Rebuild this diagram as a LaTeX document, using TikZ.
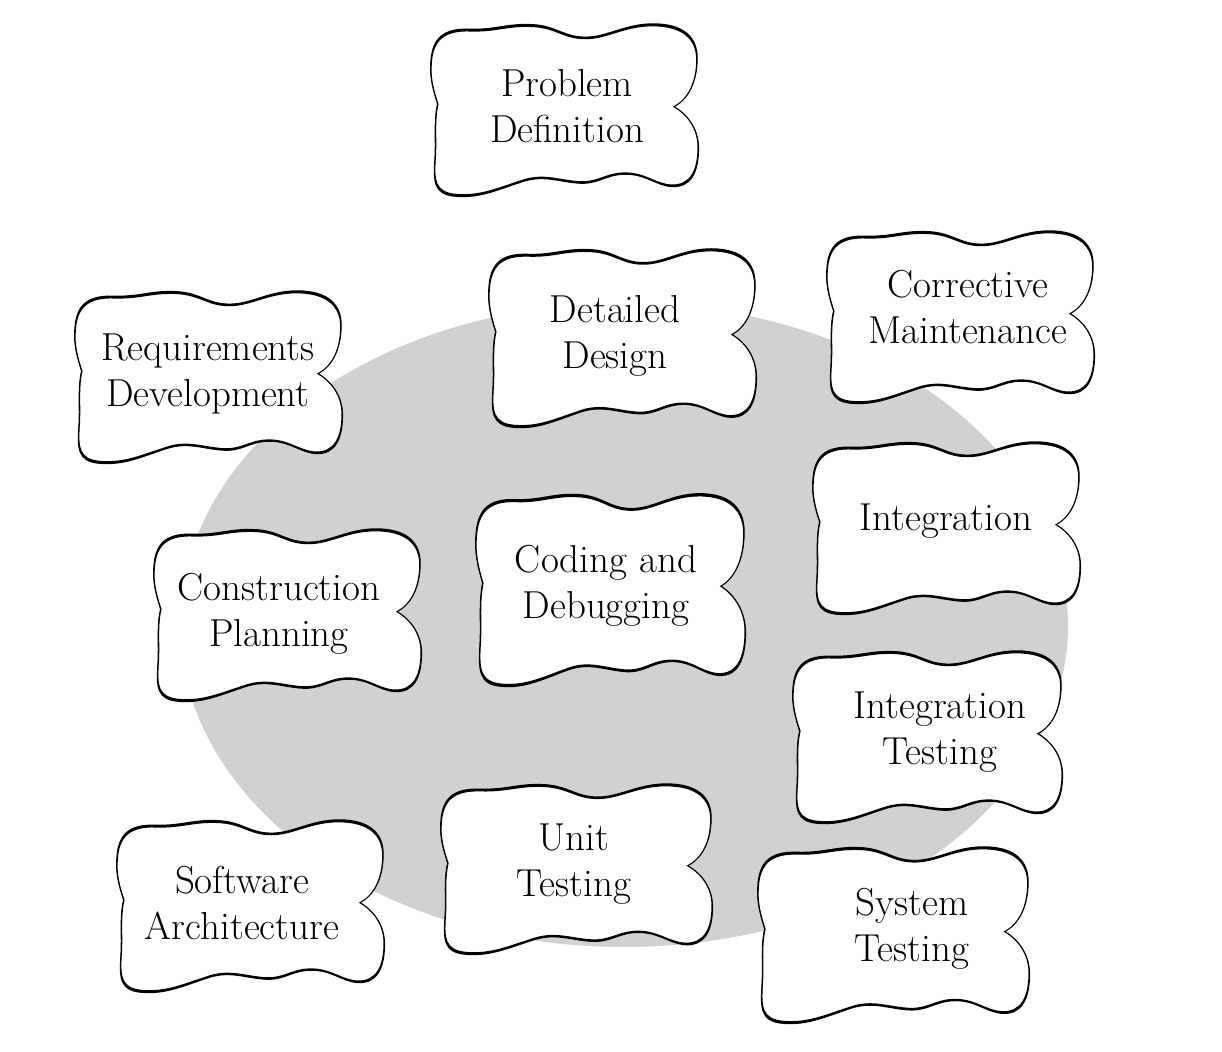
\documentclass[tikz,border=0pt]{standalone}
\usetikzlibrary{calc}
\definecolor{backdrop}{RGB}{209,209,209}

\tikzset{
  % wobbly cloud outline in unit coordinates (y grows downward)
  blobpath/.style={insert path={
    (-0.70,-0.93)
    .. controls (-0.5,-0.92) and (-0.42,-1.0) .. (-0.22,-0.98)
    .. controls (-0.05,-0.96) and (0.0,-0.84) .. (0.16,-0.84)
    .. controls (0.32,-0.84) and (0.45,-0.99) .. (0.66,-0.99)
    .. controls (0.9,-0.99) and (0.99,-0.82) .. (0.99,-0.6)
    .. controls (0.99,-0.32) and (0.92,-0.13) .. (0.82,-0.05)
    .. controls (0.93,0.05) and (1.0,0.22) .. (1.0,0.42)
    .. controls (1.0,0.7) and (0.94,0.87) .. (0.8,0.86)
    .. controls (0.68,0.85) and (0.6,0.71) .. (0.44,0.72)
    .. controls (0.3,0.73) and (0.25,0.84) .. (0.1,0.82)
    .. controls (-0.05,0.8) and (-0.15,0.73) .. (-0.3,0.8)
    .. controls (-0.5,0.9) and (-0.62,0.99) .. (-0.8,0.97)
    .. controls (-0.97,0.95) and (-0.97,0.8) .. (-0.96,0.55)
    .. controls (-0.95,0.32) and (-0.97,0.12) .. (-0.94,-0.08)
    .. controls (-0.97,-0.22) and (-1.0,-0.38) .. (-0.99,-0.55)
    .. controls (-0.98,-0.82) and (-0.9,-0.94) .. (-0.70,-0.93) -- cycle}},
  blob/.pic={
    \fill[black, xscale=1.008, yscale=1.03, blobpath];
    \filldraw[fill=white, draw=black, line width=0.5pt, blobpath];
  },
  label/.style={font=\fontsize{19.5}{23}\selectfont, align=center, inner sep=0pt}
}

\begin{document}
\begin{tikzpicture}[x=0.5pt, y=-0.5pt]
  \useasboundingbox (0,0) rectangle (1222,1052);

  % grey backdrop
  \fill[backdrop] (624,625) ellipse [x radius=444, y radius=322];

  % cloud outlines
  \pic[xscale=134, yscale=86] at (564,111) {blob};
  \pic[xscale=134, yscale=89] at (622,339) {blob};
  \pic[xscale=134, yscale=86] at (960,318) {blob};
  \pic[xscale=134, yscale=86] at (208,378) {blob};
  \pic[xscale=134, yscale=86] at (946,529) {blob};
  \pic[xscale=134, yscale=86] at (287,616) {blob};
  \pic[xscale=135, yscale=96] at (610,591) {blob};
  \pic[xscale=135, yscale=86] at (927,738) {blob};
  \pic[xscale=134, yscale=86] at (250,907) {blob};
  \pic[xscale=136, yscale=85] at (576,870) {blob};
  \pic[xscale=136, yscale=88] at (893,936) {blob};

  % labels
  \node[label] (pd) at (567,110) {\strut Problem\\\strut Definition};
  \node[label] (dd) at (615,336) {\strut Detailed\\\strut Design};
  \node[label] (cm) at (968,311) {\strut Corrective\\\strut Maintenance};
  \node[label] (rd) at (208,374) {\strut Requirements\\\strut Development};
  \node[label] (in) at (946,521) {\strut Integration};
  \node[label] (cp) at (279,614) {\strut Construction\\\strut Planning};
  \node[label] (cd) at (606,586) {\strut Coding and\\\strut Debugging};
  \node[label] (it) at (940,732) {\strut Integration\\\strut Testing};
  \node[label] (sa) at (242,907) {\strut Software\\\strut Architecture};
  \node[label] (ut) at (574,864) {\strut Unit\\\strut Testing};
  \node[label] (st) at (912,929) {\strut System\\\strut Testing};
\end{tikzpicture}
\end{document}
